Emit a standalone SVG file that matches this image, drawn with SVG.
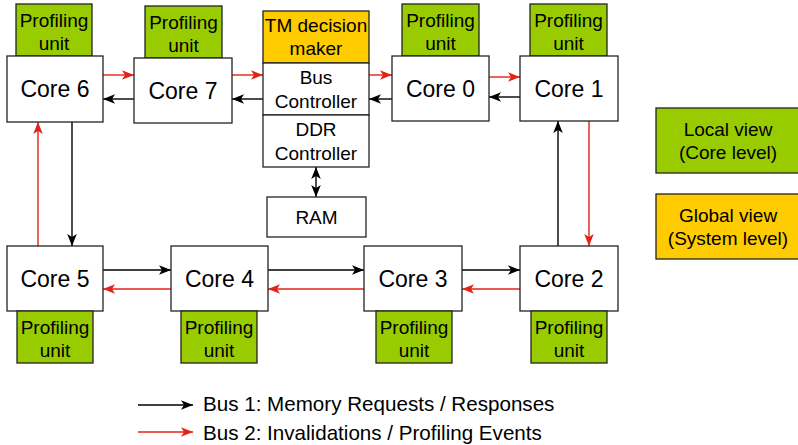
<svg xmlns="http://www.w3.org/2000/svg" width="798" height="445" viewBox="0 0 798 445">
  <style>
    text { font-family: "Liberation Sans", Arial, sans-serif; fill: #000; text-anchor: middle; }
    .core { fill: #fff; stroke: #222; stroke-width: 1.3; }
    .prof { fill: #99cc00; stroke: #222; stroke-width: 1.3; }
    .glob { fill: #ffcc00; stroke: #222; stroke-width: 1.3; }
    .plain { fill: #fff; stroke: #222; stroke-width: 1.3; }
    .ct { font-size: 23px; }
    .lt { font-size: 19px; }
    .blk { stroke: #000; stroke-width: 1.4; fill: none; marker-end: url(#ahBlack); }
    .red { stroke: #e2231a; stroke-width: 1.4; fill: none; marker-end: url(#ahRed); }
    .legend { font-size: 20.6px; text-anchor: start; }
  </style>
  <defs>
    <marker id="ahBlack" viewBox="0 0 10 8" refX="10" refY="4" markerWidth="12" markerHeight="10" markerUnits="userSpaceOnUse" orient="auto-start-reverse">
      <path d="M0,0 L10,4 L0,8 L2.5,4 z" fill="#000"/>
    </marker>
    <marker id="ahRed" viewBox="0 0 10 8" refX="10" refY="4" markerWidth="12" markerHeight="10" markerUnits="userSpaceOnUse" orient="auto-start-reverse">
      <path d="M0,0 L10,4 L0,8 L2.5,4 z" fill="#e2231a"/>
    </marker>
  </defs>

  <!-- connectors -->
  <g id="connectors">
    <!-- top row: bus 2 rightwards, bus 1 leftwards -->
    <line class="red" x1="103" y1="75" x2="134" y2="75"/>
    <line class="blk" x1="134" y1="99" x2="103" y2="99"/>
    <line class="red" x1="232" y1="75" x2="263" y2="75"/>
    <line class="blk" x1="263" y1="99" x2="232" y2="99"/>
    <line class="red" x1="369" y1="75" x2="392" y2="75"/>
    <line class="blk" x1="392" y1="99" x2="369" y2="99"/>
    <line class="red" x1="489" y1="77" x2="520" y2="77"/>
    <line class="blk" x1="520" y1="97" x2="489" y2="97"/>
    <!-- left column -->
    <line class="blk" x1="72" y1="122" x2="72" y2="246"/>
    <line class="red" x1="38" y1="246" x2="38" y2="122"/>
    <!-- right column -->
    <line class="blk" x1="558" y1="246" x2="558" y2="121"/>
    <line class="red" x1="589" y1="121" x2="589" y2="246"/>
    <!-- bottom row: bus 1 rightwards, bus 2 leftwards -->
    <line class="blk" x1="103" y1="270" x2="171" y2="270"/>
    <line class="red" x1="171" y1="289" x2="103" y2="289"/>
    <line class="blk" x1="268" y1="270" x2="364" y2="270"/>
    <line class="red" x1="364" y1="289" x2="268" y2="289"/>
    <line class="blk" x1="462" y1="270" x2="520" y2="270"/>
    <line class="red" x1="520" y1="289" x2="462" y2="289"/>
    <!-- DDR controller to RAM -->
    <line class="blk" x1="316" y1="167" x2="316" y2="197" marker-start="url(#ahBlack)"/>
    <!-- legend arrows -->
    <line class="blk" x1="138" y1="405" x2="193" y2="405"/>
    <line class="red" x1="138" y1="432" x2="193" y2="432"/>
  </g>

  <!-- top row -->
  <g id="prof6"><rect class="prof" x="16" y="4" width="76" height="52"/><text class="lt" x="54" y="27">Profiling</text><text class="lt" x="54" y="50">unit</text></g>
  <g id="core6"><rect class="core" x="7" y="56" width="96" height="66"/><text class="ct" x="55" y="97">Core 6</text></g>
  <g id="prof7"><rect class="prof" x="145" y="6" width="77" height="52"/><text class="lt" x="183.5" y="29">Profiling</text><text class="lt" x="183.5" y="52">unit</text></g>
  <g id="core7"><rect class="core" x="134" y="58" width="98" height="65"/><text class="ct" x="183" y="99">Core 7</text></g>

  <g id="tm"><rect class="glob" x="263" y="11" width="106" height="52"/><text class="lt" x="316" y="32">TM decision</text><text class="lt" x="316" y="55">maker</text></g>
  <g id="bus"><rect class="plain" x="263" y="63" width="106" height="52"/><text class="lt" x="316" y="84">Bus</text><text class="lt" x="316" y="108">Controller</text></g>
  <g id="ddr"><rect class="plain" x="263" y="115" width="106" height="52"/><text class="lt" x="316" y="136">DDR</text><text class="lt" x="316" y="160">Controller</text></g>
  <g id="ram"><rect class="plain" x="267" y="197" width="99" height="40"/><text class="lt" x="316.5" y="224">RAM</text></g>

  <g id="prof0"><rect class="prof" x="402" y="4" width="77" height="52"/><text class="lt" x="440.5" y="27">Profiling</text><text class="lt" x="440.5" y="50">unit</text></g>
  <g id="core0"><rect class="core" x="392" y="56" width="97" height="65"/><text class="ct" x="440.5" y="97">Core 0</text></g>
  <g id="prof1"><rect class="prof" x="530" y="4" width="77" height="52"/><text class="lt" x="568.5" y="27">Profiling</text><text class="lt" x="568.5" y="50">unit</text></g>
  <g id="core1"><rect class="core" x="520" y="56" width="98" height="65"/><text class="ct" x="569" y="97">Core 1</text></g>

  <!-- bottom row -->
  <g id="core5"><rect class="core" x="7" y="246" width="96" height="65"/><text class="ct" x="55" y="287">Core 5</text></g>
  <g id="prof5"><rect class="prof" x="17" y="311" width="76" height="52"/><text class="lt" x="55" y="334">Profiling</text><text class="lt" x="55" y="357">unit</text></g>
  <g id="core4"><rect class="core" x="171" y="246" width="97" height="65"/><text class="ct" x="219.5" y="287">Core 4</text></g>
  <g id="prof4"><rect class="prof" x="181" y="311" width="76" height="52"/><text class="lt" x="219" y="334">Profiling</text><text class="lt" x="219" y="357">unit</text></g>
  <g id="core3"><rect class="core" x="364" y="246" width="98" height="65"/><text class="ct" x="413" y="287">Core 3</text></g>
  <g id="prof3"><rect class="prof" x="376" y="311" width="76" height="52"/><text class="lt" x="414" y="334">Profiling</text><text class="lt" x="414" y="357">unit</text></g>
  <g id="core2"><rect class="core" x="520" y="246" width="98" height="65"/><text class="ct" x="569" y="287">Core 2</text></g>
  <g id="prof2"><rect class="prof" x="531" y="311" width="76" height="52"/><text class="lt" x="569" y="334">Profiling</text><text class="lt" x="569" y="357">unit</text></g>

  <!-- key -->
  <g id="localView"><rect class="prof" x="656" y="108" width="150" height="65"/><text class="lt" x="728" y="136">Local view</text><text class="lt" x="728" y="159">(Core level)</text></g>
  <g id="globalView"><rect class="glob" x="656" y="194" width="150" height="65"/><text class="lt" x="728" y="222">Global view</text><text class="lt" x="728" y="245">(System level)</text></g>

  <g id="legend">
    <text class="legend" x="203" y="411">Bus 1: Memory Requests / Responses</text>
    <text class="legend" x="203" y="440">Bus 2: Invalidations / Profiling Events</text>
  </g>
</svg>
